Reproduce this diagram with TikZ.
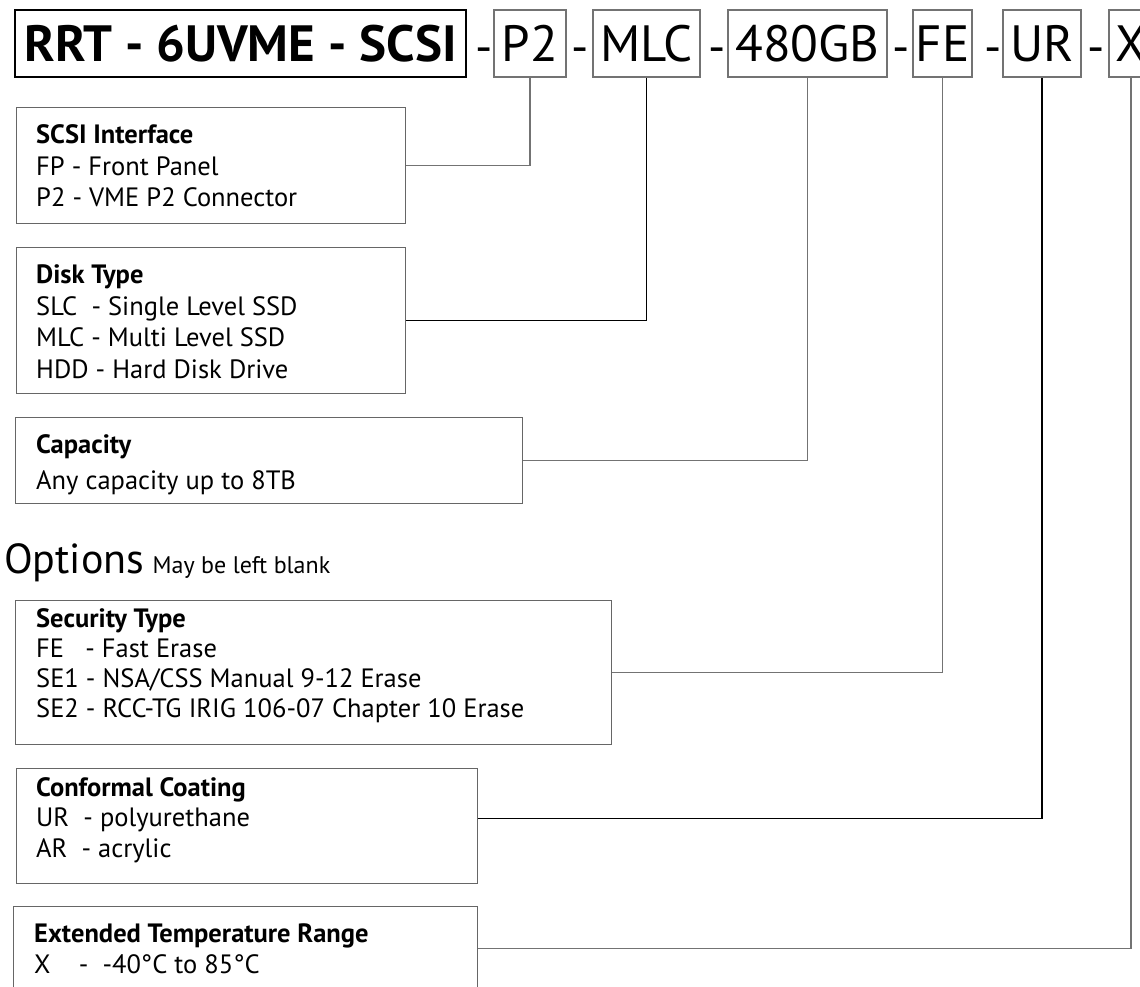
\documentclass[tikz,border=0pt]{standalone}
\usepackage{fontspec}
\setmainfont{PT Sans}
\begin{document}
\begin{tikzpicture}[x=1pt,y=-1pt,
  code/.style={draw=black!55,line width=1.2pt,minimum height=67pt,inner sep=0pt,font=\fontsize{51}{51}\selectfont},
  hyph/.style={anchor=base,inner sep=0pt,font=\fontsize{48}{48}\selectfont},
  info/.style={draw=black!60,line width=1.2pt,anchor=north west,inner sep=0pt},
  head/.style={anchor=base west,inner sep=0pt,font=\fontsize{26.5}{30}\bfseries},
  item/.style={anchor=base west,inner sep=0pt,font=\fontsize{26.5}{30}\selectfont},
  link/.style={draw=black!55,line width=1.2pt}]
\useasboundingbox (0,0) rectangle (1140,986);
\def\cy{43.5}
\def\by{63}

% part number
\node[draw=black,line width=2.2pt,minimum width=451pt,minimum height=67pt,inner sep=0pt,font=\fontsize{51}{51}\bfseries] (base) at (240.5,\cy) {RRT - 6UVME - SCSI};
\node[code,minimum width=72pt] (p2) at (530,\cy) {P2};
\node[code,minimum width=107pt] (mlc) at (646.5,\cy) {MLC};
\node[code,minimum width=159pt] (gb) at (807.5,\cy) {480GB};
\node[code,minimum width=59pt] (fe) at (942.5,\cy) {FE};
\node[code,minimum width=78pt] (ur) at (1042,\cy) {UR};
\node[code,minimum width=44pt] (xt) at (1131,\cy) {X};

\node[hyph] (h1) at (484.5,\by) {-};
\node[hyph] (h2) at (580,\by) {-};
\node[hyph] (h3) at (717.5,\by) {-};
\node[hyph] (h4) at (901,\by) {-};
\node[hyph] (h5) at (993.5,\by) {-};
\node[hyph] (h6) at (1096,\by) {-};

% boxes
\node[info,minimum width=389pt,minimum height=116pt] (scsi) at (16,107) {};
\node[head] (scsiH) at (36,143) {SCSI Interface};
\node[item] (scsi1) at (36,175) {FP - Front Panel};
\node[item] (scsi2) at (36,206) {P2 - VME P2 Connector};

\node[info,minimum width=389pt,minimum height=146pt] (disk) at (16,247) {};
\node[head] (diskH) at (36,283) {Disk Type};
\node[item] (disk1) at (36,315) {SLC\ \ - Single Level SSD};
\node[item] (disk2) at (36,346) {MLC - Multi Level SSD};
\node[item] (disk3) at (36,378) {HDD - Hard Disk Drive};

\node[info,minimum width=507pt,minimum height=86pt] (capa) at (15,417) {};
\node[head] (capaH) at (36,453) {Capacity};
\node[item] (capa1) at (36,489) {Any capacity up to 8TB};

\node[anchor=base west,inner sep=0pt,font=\fontsize{42}{42}\selectfont] (opt) at (4,573) {Options};
\node[anchor=base west,inner sep=0pt,font=\fontsize{24}{24}\selectfont] (optN) at ([xshift=8pt]opt.base east) {May be left blank};

\node[info,minimum width=596pt,minimum height=144pt] (secu) at (15,600) {};
\node[head] (secuH) at (36,627) {Security Type};
\node[item] (secu1) at (36,657) {FE\ \ \ - Fast Erase};
\node[item] (secu2) at (36,687) {SE1 - NSA/CSS Manual 9-12 Erase};
\node[item] (secu3) at (36,717) {SE2 - RCC-TG IRIG 106-07 Chapter 10 Erase};

\node[info,minimum width=461pt,minimum height=115pt] (conf) at (16,768) {};
\node[head] (confH) at (36,796) {Conformal Coating};
\node[item] (conf1) at (36,826) {UR\ \ - polyurethane};
\node[item] (conf2) at (36,857) {AR\ \ - acrylic};

\node[info,minimum width=464pt,minimum height=84pt] (ext) at (13,906) {};
\node[head] (extH) at (34,942) {Extended Temperature Range};
\node[item] (ext1) at (34,973) {X\ \ \ \ -\ \ -40°C to 85°C};

% connectors
\draw[link] (scsi.east) -| (p2.south);
\draw[link,draw=black] (disk.east) -| (mlc.south);
\draw[link] (capa.east) -| (gb.south);
\draw[link] (secu.east) -| (fe.south);
\draw[link,draw=black] ([yshift=8pt]conf.east) -| (ur.south);
\draw[link] (ext.east) -| (xt.south);
\end{tikzpicture}
\end{document}
